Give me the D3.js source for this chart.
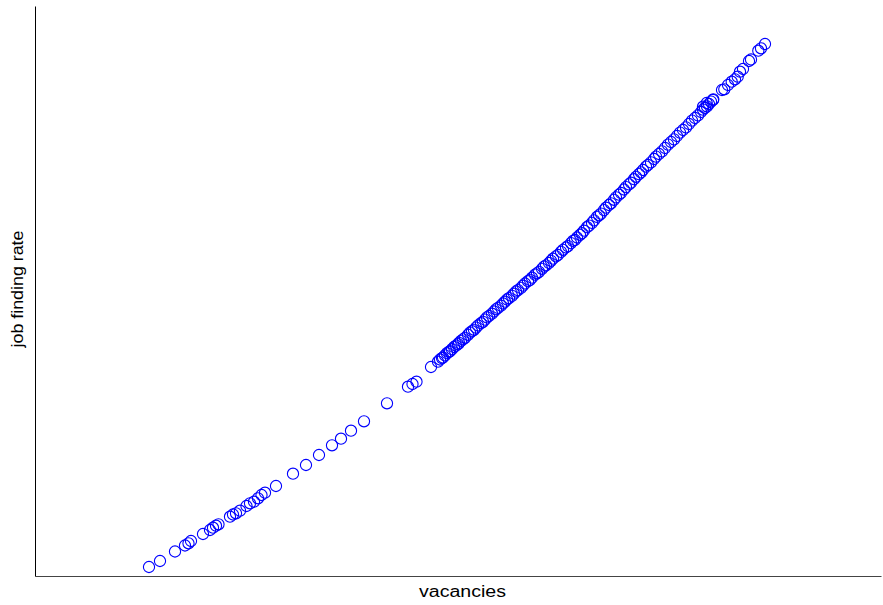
<!DOCTYPE html>
<html>
<head>
<meta charset="utf-8">
<script src="https://cdn.jsdelivr.net/npm/d3@7"></script>
<style>
  html, body { margin: 0; padding: 0; background: #fff; }
  svg { display: block; }
  text { font-family: "Liberation Sans", Arial, sans-serif; }
</style>
</head>
<body>
<script>
// Vacancies (x) and job finding rate (y), one entry per observation.
const vacancies = [
  1.14, 1.25, 1.40, 1.50, 1.535, 1.56, 1.68, 1.75, 1.78, 1.81, 1.835,
  1.95, 1.98, 2.01, 2.05, 2.115, 2.15, 2.19, 2.23, 2.265, 2.30, 2.41,
  2.58, 2.71, 2.84, 2.97, 3.06, 3.16, 3.29, 3.52, 3.73, 3.775, 3.815, 3.96,
  4.03, 4.05, 4.07, 4.08, 4.10, 4.12, 4.14, 4.15, 4.17, 4.19, 4.21, 4.23,
  4.24, 4.26, 4.28, 4.30, 4.33, 4.35, 4.37, 4.39, 4.41, 4.43, 4.46, 4.48,
  4.50, 4.52, 4.54, 4.57, 4.59, 4.61, 4.63, 4.66, 4.68,
  4.70, 4.72, 4.74, 4.77, 4.79, 4.81, 4.83, 4.86, 4.88, 4.90, 4.93, 4.95,
  4.97, 5.00, 5.02, 5.04, 5.07, 5.09, 5.11, 5.14, 5.16, 5.18, 5.21, 5.23,
  5.26, 5.28, 5.31, 5.33, 5.36, 5.38,
  5.40, 5.42, 5.45, 5.47, 5.49, 5.52, 5.54, 5.57, 5.59, 5.62, 5.64, 5.66,
  5.69, 5.71, 5.74, 5.76, 5.79, 5.81, 5.84, 5.86, 5.89, 5.91, 5.94, 5.96,
  5.99, 6.01, 6.04, 6.06,
  6.08, 6.11, 6.13, 6.16, 6.19, 6.21, 6.24, 6.27, 6.30, 6.33, 6.36, 6.39,
  6.42, 6.45, 6.48, 6.51, 6.54, 6.57, 6.60, 6.63, 6.66, 6.68, 6.70, 6.72,
  6.74, 6.76, 6.78,
  6.68, 6.717, 6.783, 6.87, 6.893, 6.93, 6.967, 7.00, 7.027, 7.05, 7.08,
  7.14, 7.16, 7.233, 7.26, 7.30
];

const jobFindingRate = [
  0.009, 0.015, 0.0245, 0.0305, 0.0327, 0.035, 0.042, 0.046, 0.0483, 0.0503, 0.0517,
  0.0593, 0.0615, 0.0627, 0.0653, 0.070, 0.0727, 0.0743, 0.0777, 0.081, 0.0833, 0.090,
  0.1023, 0.111, 0.121, 0.1307, 0.1373, 0.1453, 0.1547, 0.1727, 0.1893, 0.192, 0.1943, 0.209,
  0.2143, 0.2165, 0.2179, 0.2185, 0.2206, 0.2228, 0.2242, 0.2248, 0.2268, 0.2290, 0.2304, 0.2318,
  0.2331, 0.2352, 0.2367, 0.2382, 0.2412, 0.2434, 0.2448, 0.2462, 0.2484, 0.2505, 0.2528, 0.2542,
  0.2564, 0.2586, 0.2600, 0.2623, 0.2645, 0.2667, 0.2681, 0.2703, 0.2725,
  0.2743, 0.2765, 0.2779, 0.2801, 0.2823, 0.2845, 0.2859, 0.2881, 0.2903, 0.2925, 0.2948, 0.2961,
  0.2983, 0.3014, 0.3027, 0.3041, 0.3072, 0.3094, 0.3107, 0.3130, 0.3152, 0.3173, 0.3196, 0.3210,
  0.3241, 0.3262, 0.3285, 0.3299, 0.3329, 0.3351,
  0.3360, 0.3385, 0.3412, 0.3428, 0.3453, 0.3488, 0.3504, 0.3531, 0.3556, 0.3591, 0.3607, 0.3624,
  0.3659, 0.3683, 0.3710, 0.3727, 0.3762, 0.3786, 0.3813, 0.3830, 0.3865, 0.3889, 0.3916, 0.3933,
  0.3968, 0.3992, 0.4019, 0.4036,
  0.4060, 0.4094, 0.4110, 0.4136, 0.4170, 0.4194, 0.4220, 0.4246, 0.4280, 0.4314, 0.4340, 0.4366,
  0.4400, 0.4434, 0.4460, 0.4486, 0.4520, 0.4554, 0.4580, 0.4606, 0.4640, 0.4664, 0.4680, 0.4696,
  0.4720, 0.4744, 0.4760,
  0.4693, 0.4730, 0.4767, 0.4860, 0.4867, 0.4910, 0.4943, 0.4967, 0.4993, 0.5043, 0.5070,
  0.5150, 0.5165, 0.5253, 0.5277, 0.5320
];

const xLabel = "vacancies";
const yLabel = "job finding rate";

const width = 883, height = 605;
const margin = { top: 6, right: 2, bottom: 29, left: 35 };

const svg = d3.select("body").append("svg")
  .attr("width", width)
  .attr("height", height);

const x = d3.scaleLinear()
  .domain([0, 8.46])
  .range([margin.left, width - margin.right]);

const y = d3.scaleLinear()
  .domain([0, 0.57])
  .range([height - margin.bottom, margin.top]);

// Axes without ticks: only the axis lines are drawn.
const xAxis = svg.append("g")
  .attr("transform", `translate(0,${height - margin.bottom})`)
  .call(d3.axisBottom(x).tickValues([]).tickSizeOuter(0));
xAxis.select(".domain").attr("stroke", "#444").attr("stroke-width", 1.2);

const yAxis = svg.append("g")
  .attr("transform", `translate(${margin.left},0)`)
  .call(d3.axisLeft(y).tickValues([]).tickSizeOuter(0));
yAxis.select(".domain").attr("stroke", "#000").attr("stroke-width", 1);

// Scatter of open circles.
const points = vacancies.map((v, i) => ({ v, r: jobFindingRate[i] }));
svg.append("g")
  .selectAll("circle")
  .data(points)
  .join("circle")
  .attr("cx", d => x(d.v))
  .attr("cy", d => y(d.r))
  .attr("r", 5.6)
  .attr("fill", "none")
  .attr("stroke", "#0000ff")
  .attr("stroke-width", 1.1);

// Axis titles.
svg.append("text")
  .attr("x", 462.5)
  .attr("y", 597)
  .attr("text-anchor", "middle")
  .attr("font-size", 16)
  .attr("textLength", 87)
  .attr("lengthAdjust", "spacingAndGlyphs")
  .attr("fill", "#000")
  .text(xLabel);

svg.append("text")
  .attr("transform", `translate(23,${289}) rotate(-90)`)
  .attr("text-anchor", "middle")
  .attr("font-size", 16)
  .attr("textLength", 117)
  .attr("lengthAdjust", "spacingAndGlyphs")
  .attr("fill", "#000")
  .text(yLabel);
</script>
</body>
</html>
